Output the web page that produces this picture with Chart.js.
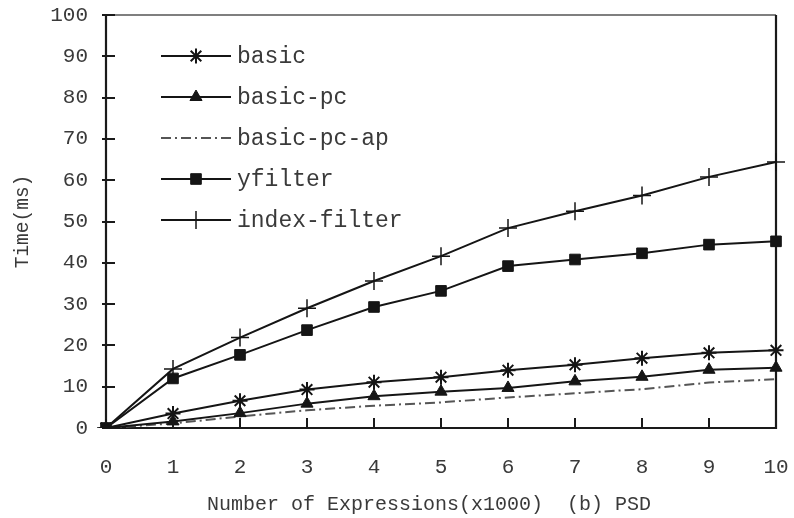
<!DOCTYPE html>
<html><head><meta charset="utf-8">
<script src="https://cdn.jsdelivr.net/npm/chart.js@4/dist/chart.umd.min.js"></script>
<style>html,body{margin:0;padding:0;background:#fff}#wrap{width:794px;height:518px}</style>
</head><body><div id="wrap"><canvas id="c" width="794" height="518"></canvas></div>
<script>
const categories = ['0','1','2','3','4','5','6','7','8','9','10'];
const basic       = [0, 3.5, 6.6, 9.3, 11.1, 12.3, 14.0, 15.3, 16.9, 18.2, 18.8];
const basicPc     = [0, 1.6, 3.6, 5.9, 7.7, 8.8, 9.7, 11.3, 12.4, 14.1, 14.6];
const basicPcAp   = [0, 1.1, 2.8, 4.3, 5.4, 6.2, 7.4, 8.4, 9.4, 11.0, 11.8];
const yfilter     = [0, 12.0, 17.7, 23.7, 29.3, 33.2, 39.2, 40.8, 42.3, 44.4, 45.2];
const indexFilter = [0, 14.3, 21.9, 29.0, 35.6, 41.6, 48.4, 52.5, 56.3, 60.8, 64.4];
const seriesNames = ['basic','basic-pc','basic-pc-ap','yfilter','index-filter'];
const yTicks = [0,10,20,30,40,50,60,70,80,90,100];
const xTitle = 'Number of Expressions(x1000)  (b) PSD  ';
const yTitle = 'Time(ms)';

const MONO = '"Liberation Mono", "Courier New", monospace';
const TEXT = '#3a3a3a';
const LINE = '#151515';

function ds(label, data, style, radius, extra) {
  return Object.assign({
    label, data,
    borderColor: LINE, backgroundColor: LINE, borderWidth: 2,
    pointStyle: style, pointRadius: radius, pointBorderWidth: 2,
    pointBackgroundColor: LINE, pointBorderColor: LINE,
    tension: 0, fill: false
  }, extra || {});
}

const datasets = [
  ds(seriesNames[0], basic, 'star', 7.5),
  ds(seriesNames[1], basicPc, 'triangle', 7, {pointBorderWidth: 1}),
  ds(seriesNames[2], basicPcAp, false, 0, {borderColor: '#555', borderDash: [10,4,2,4], borderWidth: 2}),
  ds(seriesNames[3], yfilter, 'rect', 7.5, {pointBorderWidth: 1}),
  ds(seriesNames[4], indexFilter, 'cross', 9, {pointBorderWidth: 1.5})
];

const framePlugin = {
  id: 'frame',
  beforeDatasetsDraw(chart) {
    const {ctx, chartArea: a, scales: {x, y}} = chart;
    ctx.save();
    ctx.lineCap = 'butt';
    ctx.strokeStyle = '#555'; ctx.lineWidth = 1.5;
    ctx.beginPath(); ctx.moveTo(a.left, a.top); ctx.lineTo(a.right, a.top); ctx.stroke();
    ctx.strokeStyle = '#1a1a1a'; ctx.lineWidth = 2.2;
    ctx.beginPath();
    ctx.moveTo(a.left, a.top); ctx.lineTo(a.left, a.bottom);
    ctx.lineTo(a.right, a.bottom); ctx.lineTo(a.right, a.top);
    ctx.stroke();
    ctx.lineWidth = 2;
    yTicks.forEach(v => {
      const py = Math.round(y.getPixelForValue(v));
      ctx.beginPath(); ctx.moveTo(a.left - 4, py); ctx.lineTo(a.left + 9, py); ctx.stroke();
    });
    categories.forEach((c, i) => {
      const px = Math.round(x.getPixelForValue(i));
      ctx.beginPath(); ctx.moveTo(px, a.bottom); ctx.lineTo(px, a.bottom - 10); ctx.stroke();
    });
    ctx.restore();
  }
};

const legendPlugin = {
  id: 'insideLegend',
  afterDraw(chart) {
    const {ctx} = chart;
    const x0 = 161, x1 = 231, tx = 237, top = 56, gap = 41;
    ctx.save();
    chart.data.datasets.forEach((d, i) => {
      const yy = top + i * gap;
      ctx.strokeStyle = d.borderColor; ctx.lineWidth = d.borderWidth;
      ctx.setLineDash(d.borderDash || []);
      ctx.beginPath(); ctx.moveTo(x0, yy); ctx.lineTo(x1, yy); ctx.stroke();
      ctx.setLineDash([]);
      if (d.pointStyle) {
        ctx.fillStyle = d.pointBackgroundColor; ctx.strokeStyle = d.pointBorderColor;
        ctx.lineWidth = d.pointBorderWidth;
        Chart.helpers.drawPoint(ctx, {pointStyle: d.pointStyle, radius: d.pointRadius, borderWidth: d.pointBorderWidth, rotation: 0}, (x0 + x1) / 2, yy);
      }
      ctx.fillStyle = TEXT;
      ctx.font = '23px ' + MONO;
      ctx.textBaseline = 'middle'; ctx.textAlign = 'left';
      ctx.fillText(d.label, tx, yy + 1);
    });
    ctx.restore();
  }
};

new Chart(document.getElementById('c'), {
  type: 'line',
  data: { labels: categories, datasets },
  options: {
    responsive: false, animation: false, devicePixelRatio: 1,
    layout: { padding: { top: 15, right: 18, left: 0, bottom: 0 } },
    plugins: { legend: { display: false }, tooltip: { enabled: false } },
    scales: {
      x: {
        type: 'category', offset: false,
        grid: { display: false, drawTicks: false },
        border: { display: false },
        ticks: { color: TEXT, font: { family: MONO, size: 21 }, padding: 27, maxRotation: 0, autoSkip: false },
        title: { display: true, text: xTitle, color: TEXT, font: { family: MONO, size: 20 }, padding: { top: 0, bottom: 1 } },
        afterFit(s) { s.height = 90; s.paddingLeft = 0; s.paddingRight = 0; }
      },
      y: {
        min: 0, max: 100,
        grid: { display: false, drawTicks: false },
        border: { display: false },
        ticks: { stepSize: 10, color: TEXT, font: { family: MONO, size: 21 }, padding: 18 },
        title: { display: true, text: yTitle, color: TEXT, font: { family: MONO, size: 19.5 }, padding: { top: 11, bottom: 0 } },
        afterFit(s) { s.width = 106; s.paddingTop = 0; s.paddingBottom = 0; }
      }
    }
  },
  plugins: [framePlugin, legendPlugin]
});
</script>
</body></html>
